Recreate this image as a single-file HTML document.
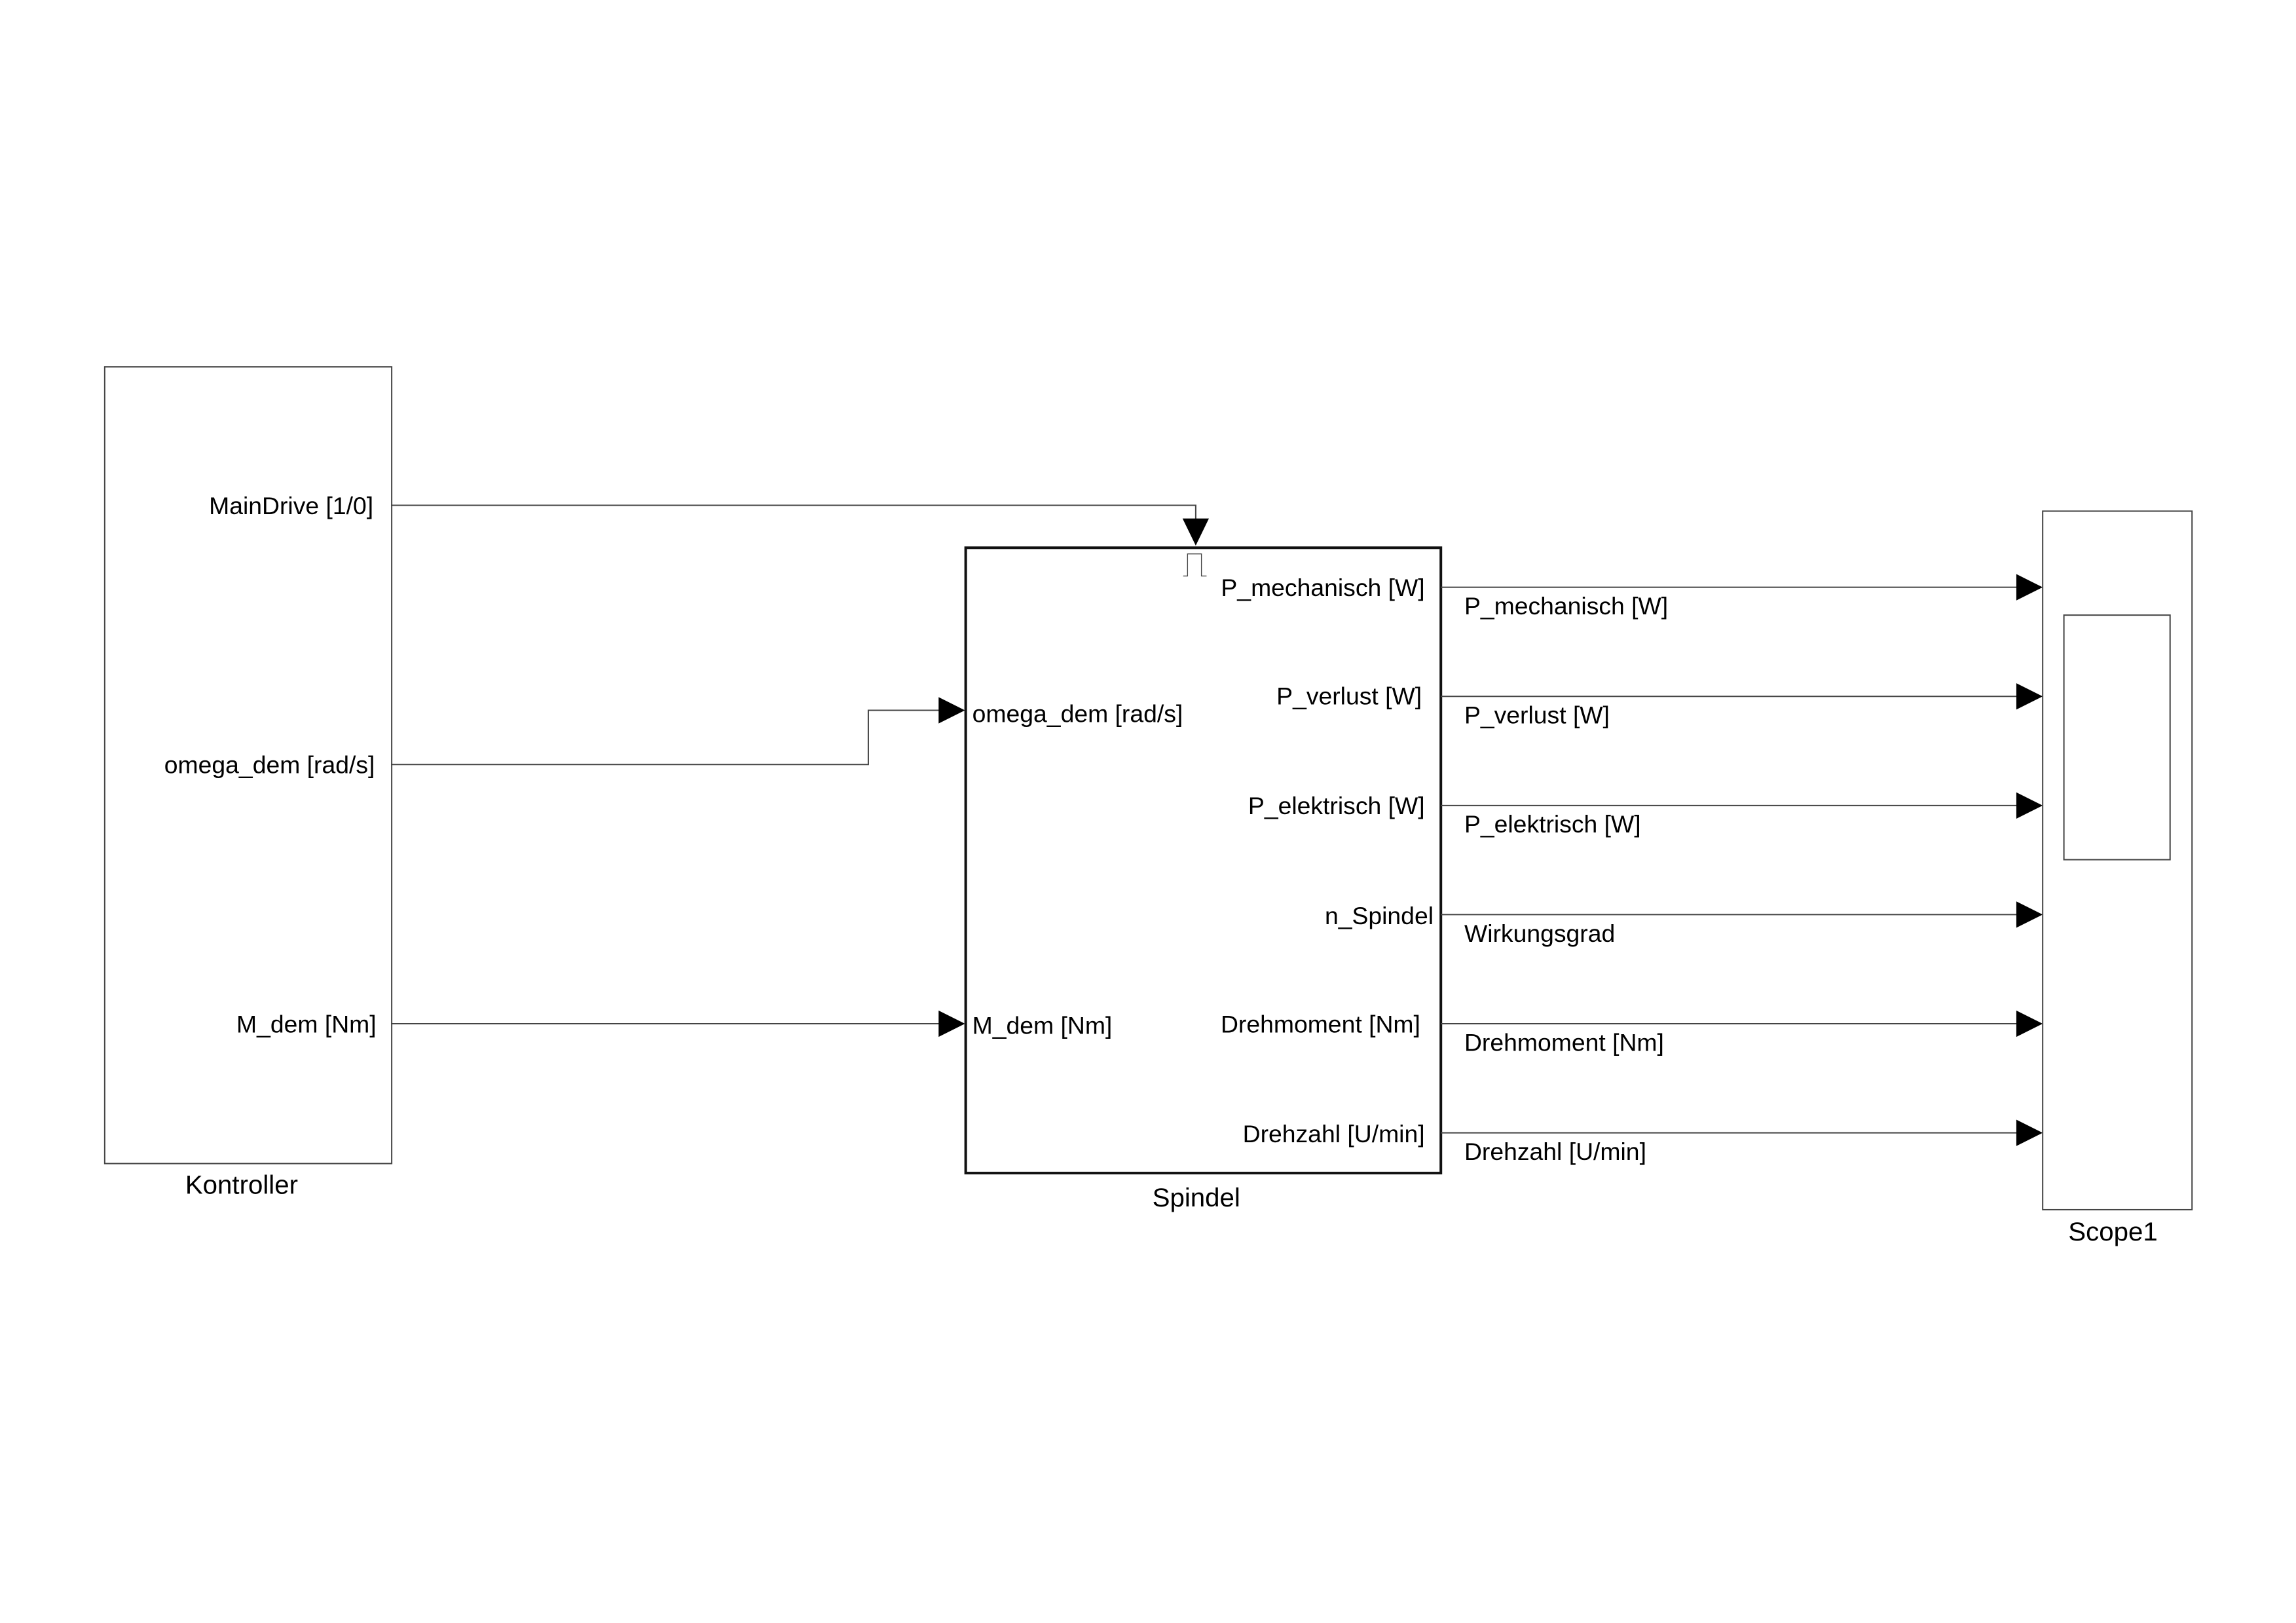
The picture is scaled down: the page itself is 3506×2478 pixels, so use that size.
<!DOCTYPE html>
<html><head><meta charset="utf-8"><style>
html,body{margin:0;padding:0;background:#fff;}
svg{display:block;}
text{font-family:"Liberation Sans",Arial,sans-serif;fill:#000;}
</style></head><body>
<svg width="3506" height="2478" viewBox="0 0 1568 1108.2" xmlns="http://www.w3.org/2000/svg">
<rect x="0" y="0" width="1568" height="1108.2" fill="#fff"/>
<!-- Kontroller -->
<rect x="71.5" y="250.5" width="196" height="544" fill="none" stroke="#444" stroke-width="0.9"/>
<g font-size="16.7" text-anchor="end">
<text x="255" y="351">MainDrive [1/0]</text>
<text x="256" y="528">omega_dem [rad/s]</text>
<text x="257" y="705">M_dem [Nm]</text>
</g>
<text x="165" y="815" font-size="18" text-anchor="middle">Kontroller</text>
<!-- connections from Kontroller -->
<g fill="none" stroke="#444" stroke-width="0.9">
<polyline points="267,345 816.6,345 816.6,355"/>
<polyline points="267,522 593,522 593,485 642,485"/>
<line x1="267" y1="699" x2="642" y2="699"/>
</g>
<polygon points="807.6,354 825.6,354 816.6,372.5" fill="#000"/>
<polygon points="641,476 659,485 641,494" fill="#000"/>
<polygon points="641,690 659,699 641,708" fill="#000"/>
<!-- Spindel -->
<rect x="659.5" y="374" width="324.5" height="427" fill="none" stroke="#111" stroke-width="1.8"/>
<polyline points="808,393.3 811,393.3 811,378.2 820.5,378.2 820.5,393.3 824,393.3" fill="none" stroke="#444" stroke-width="0.6"/>
<g font-size="16.7">
<text x="664" y="493">omega_dem [rad/s]</text>
<text x="664" y="706">M_dem [Nm]</text>
</g>
<g font-size="16.7" text-anchor="end">
<text x="973" y="407">P_mechanisch [W]</text>
<text x="971" y="481">P_verlust [W]</text>
<text x="973" y="556">P_elektrisch [W]</text>
<text x="979" y="631">n_Spindel</text>
<text x="970" y="705">Drehmoment [Nm]</text>
<text x="973" y="780">Drehzahl [U/min]</text>
</g>
<text x="817" y="823.8" font-size="18" text-anchor="middle">Spindel</text>
<!-- outputs -->
<g fill="none" stroke="#444" stroke-width="0.9">
<line x1="984" y1="401" x2="1378" y2="401"/>
<line x1="984" y1="475.5" x2="1378" y2="475.5"/>
<line x1="984" y1="550" x2="1378" y2="550"/>
<line x1="984" y1="624.5" x2="1378" y2="624.5"/>
<line x1="984" y1="699" x2="1378" y2="699"/>
<line x1="984" y1="773.5" x2="1378" y2="773.5"/>
</g>
<g fill="#000">
<polygon points="1377,392 1395,401 1377,410"/>
<polygon points="1377,466.5 1395,475.5 1377,484.5"/>
<polygon points="1377,541 1395,550 1377,559"/>
<polygon points="1377,615.5 1395,624.5 1377,633.5"/>
<polygon points="1377,690 1395,699 1377,708"/>
<polygon points="1377,764.5 1395,773.5 1377,782.5"/>
</g>
<g font-size="16.7">
<text x="1000" y="419.5">P_mechanisch [W]</text>
<text x="1000" y="494">P_verlust [W]</text>
<text x="1000" y="568.5">P_elektrisch [W]</text>
<text x="1000" y="643">Wirkungsgrad</text>
<text x="1000" y="717.5">Drehmoment [Nm]</text>
<text x="1000" y="792">Drehzahl [U/min]</text>
</g>
<!-- Scope -->
<rect x="1395" y="349" width="102" height="477" fill="none" stroke="#444" stroke-width="0.9"/>
<rect x="1409.5" y="420" width="72.5" height="167" fill="none" stroke="#444" stroke-width="0.9"/>
<text x="1443" y="847" font-size="18" text-anchor="middle">Scope1</text>
</svg>
</body></html>
